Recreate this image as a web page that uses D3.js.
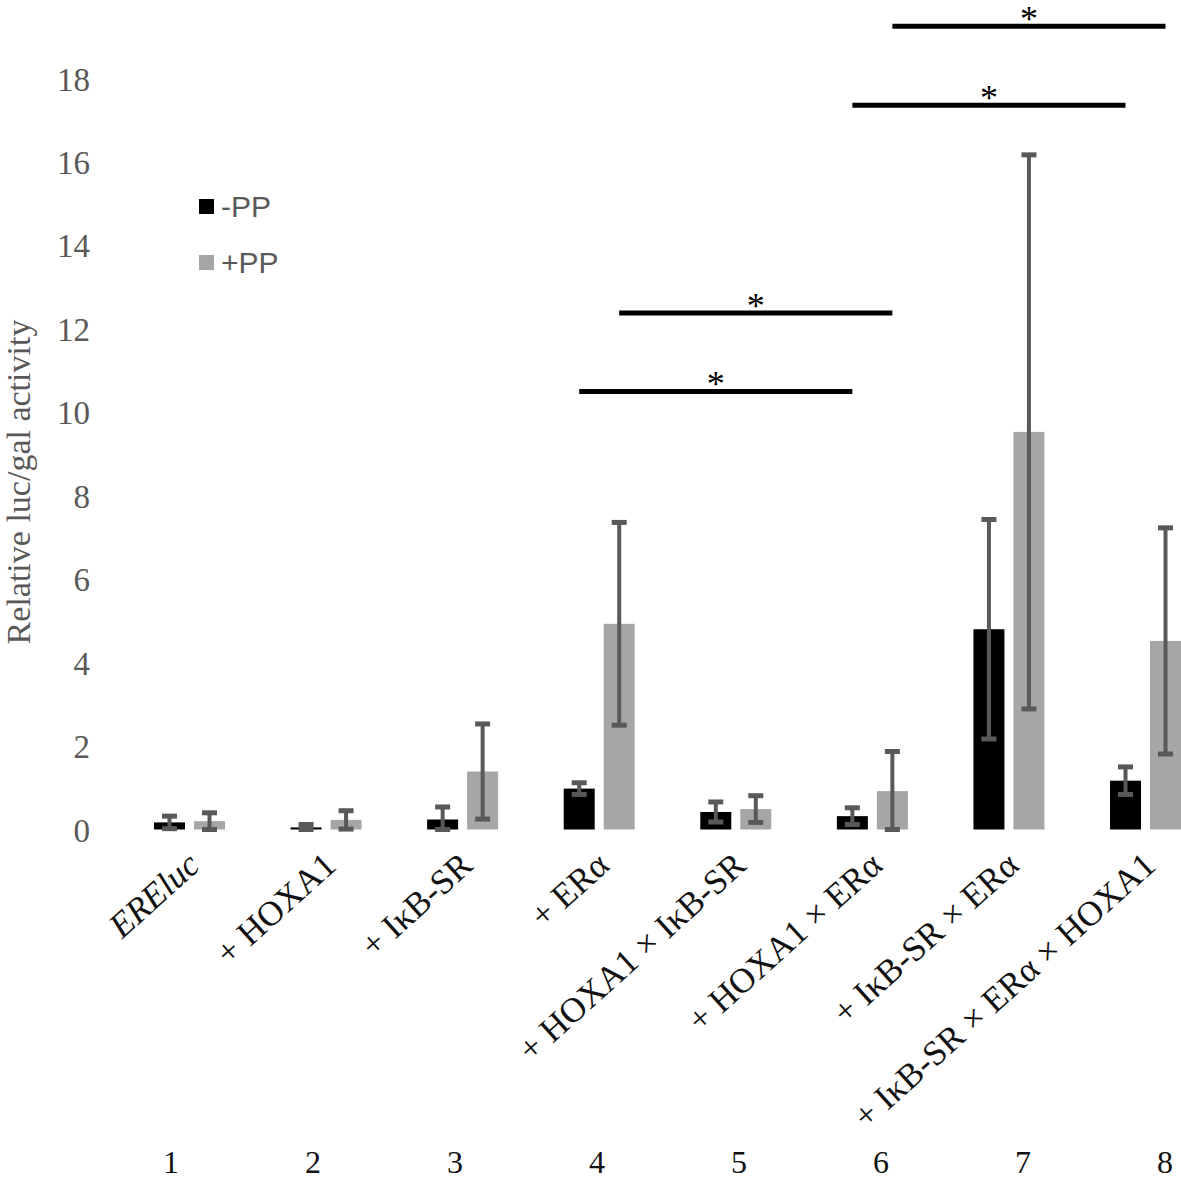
<!DOCTYPE html>
<html>
<head>
<meta charset="utf-8">
<script src="https://cdn.jsdelivr.net/npm/d3@7"></script>
<style>
  html, body { margin: 0; padding: 0; background: #fff; }
  svg { display: block; }
</style>
</head>
<body>
<div id="chart"></div>
<script>
// ---------- data ----------
const categories = [
  "EREluc",
  "+ HOXA1",
  "+ IκB-SR",
  "+ ERα",
  "+ HOXA1 × IκB-SR",
  "+ HOXA1 × ERα",
  "+ IκB-SR × ERα",
  "+ IκB-SR × ERα × HOXA1"
];
const seriesNames = ["-PP", "+PP"];
const minusPP    = [0.17, 0.05, 0.24, 0.98, 0.42, 0.32, 4.80, 1.17];
const minusPPErr = [0.15, 0.07, 0.30, 0.14, 0.24, 0.20, 2.63, 0.33];
const plusPP     = [0.20, 0.23, 1.39, 4.93, 0.49, 0.92, 9.53, 4.52];
const plusPPErr  = [0.20, 0.22, 1.14, 2.43, 0.32, 0.95, 6.64, 2.71];
const yTicks = [0, 2, 4, 6, 8, 10, 12, 14, 16, 18];
const laneNumbers = ["1", "2", "3", "4", "5", "6", "7", "8"];
// significance brackets: from group index to group index, series, height
const sigFrom   = [3, 3, 5, 5];
const sigTo     = [5, 5, 7, 7];
const sigSeries = ["-PP", "+PP", "-PP", "+PP"];
const sigLevel  = [10.5, 12.38, 17.36, 19.25];
const sigMark   = ["*", "*", "*", "*"];

// ---------- layout ----------
const W = 1181, H = 1181;
const svg = d3.select("#chart").append("svg").attr("width", W).attr("height", H);

const y = d3.scaleLinear().domain([0, 18]).range([829.5, 78.5]);
const x0 = d3.scaleBand().domain(categories).range([121.2, 1213.8]);
const x1 = d3.scaleBand().domain(seriesNames).range([-35.5, 35.5]).paddingInner(0.225);
const color = d3.scaleOrdinal().domain(seriesNames).range(["#000000", "#a6a6a6"]);
const center = c => x0(c) + x0.bandwidth() / 2;

const rows = [];
categories.forEach((c, i) => {
  rows.push({cat: c, s: "-PP", v: minusPP[i], e: minusPPErr[i]});
  rows.push({cat: c, s: "+PP", v: plusPP[i], e: plusPPErr[i]});
});

const serif = "'Liberation Serif', 'Times New Roman', serif";

// y tick labels (no axis line)
const yAxis = d3.axisLeft(y).tickValues(yTicks).tickSize(0).tickPadding(0);
const gy = svg.append("g").attr("transform", "translate(90,0)").call(yAxis);
gy.select(".domain").remove();
gy.selectAll("text")
  .attr("font-family", serif)
  .attr("font-size", 33)
  .attr("fill", "#595959")
  .attr("dy", "0.35em");

// y axis title
svg.append("text")
  .attr("transform", `translate(30,${482}) rotate(-90)`)
  .attr("text-anchor", "middle")
  .attr("font-family", serif)
  .attr("font-size", 34)
  .attr("fill", "#595959")
  .text("Relative luc/gal activity");

// bars
svg.append("g").selectAll("rect").data(rows).join("rect")
  .attr("x", d => center(d.cat) + x1(d.s))
  .attr("width", x1.bandwidth())
  .attr("y", d => y(d.v))
  .attr("height", d => y(0) - y(d.v))
  .attr("fill", d => color(d.s));

// error bars
const eb = svg.append("g").attr("stroke", "#595959");
const ex = d => center(d.cat) + x1(d.s) + x1.bandwidth() / 2;
const lo = d => y(Math.max(0, d.v - d.e));
const hi = d => y(d.v + d.e);
eb.selectAll("line.v").data(rows).join("line").attr("class", "v")
  .attr("x1", ex).attr("x2", ex)
  .attr("y1", hi).attr("y2", lo)
  .attr("stroke-width", 4);
eb.selectAll("line.t").data(rows).join("line").attr("class", "t")
  .attr("x1", d => ex(d) - 7.5).attr("x2", d => ex(d) + 7.5)
  .attr("y1", hi).attr("y2", hi)
  .attr("stroke-width", 5);
eb.selectAll("line.b").data(rows).join("line").attr("class", "b")
  .attr("x1", d => ex(d) - 7.5).attr("x2", d => ex(d) + 7.5)
  .attr("y1", lo).attr("y2", lo)
  .attr("stroke-width", 5);

// significance brackets
const sig = sigFrom.map((f, i) => ({
  x1: center(categories[f]) + x1(sigSeries[i]) + x1.bandwidth() / 2,
  x2: center(categories[sigTo[i]]) + x1(sigSeries[i]) + x1.bandwidth() / 2,
  yv: sigLevel[i], m: sigMark[i]
}));
const gs = svg.append("g");
gs.selectAll("line").data(sig).join("line")
  .attr("x1", d => d.x1).attr("x2", d => d.x2)
  .attr("y1", d => y(d.yv)).attr("y2", d => y(d.yv))
  .attr("stroke", "#000").attr("stroke-width", 5);
gs.selectAll("text").data(sig).join("text")
  .attr("x", d => (d.x1 + d.x2) / 2)
  .attr("y", d => y(d.yv) + 5)
  .attr("text-anchor", "middle")
  .attr("font-family", serif)
  .attr("font-size", 36)
  .attr("fill", "#000")
  .text(d => d.m);

// legend
const lg = svg.append("g");
seriesNames.forEach((s, i) => {
  lg.append("rect").attr("x", 199).attr("y", 199 + i * 56).attr("width", 15).attr("height", 15)
    .attr("fill", color(s));
  lg.append("text").attr("x", 221).attr("y", 217 + i * 56)
    .attr("font-family", "'Liberation Sans', Arial, sans-serif")
    .attr("font-size", 30)
    .attr("fill", "#595959")
    .text(s);
});

// category labels (rotated)
svg.append("g").selectAll("text").data(categories).join("text")
  .attr("transform", c => `translate(${center(c) + 12},${868}) rotate(-42)`)
  .attr("text-anchor", "end")
  .attr("font-family", serif)
  .attr("font-size", 35)
  .attr("font-style", (c, i) => i === 0 ? "italic" : "normal")
  .attr("fill", "#111")
  .text(c => c);

// lane numbers
const xn = d3.scalePoint().domain(laneNumbers).range([171, 1165]);
svg.append("g").selectAll("text").data(laneNumbers).join("text")
  .attr("x", d => xn(d)).attr("y", 1173)
  .attr("text-anchor", "middle")
  .attr("font-family", serif)
  .attr("font-size", 32)
  .attr("fill", "#111")
  .text(d => d);
</script>
</body>
</html>
